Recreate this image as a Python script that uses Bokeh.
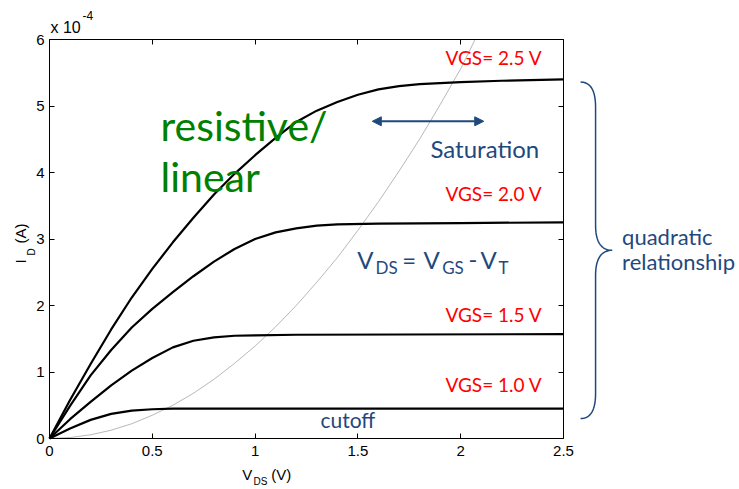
import numpy as np
from bokeh.plotting import figure
from bokeh.models import (Range1d, LinearAxis, FixedTicker, Label, Arrow, NormalHead)
from bokeh.embed import file_html
from bokeh.resources import INLINE

# ---- data (I_D in units of 1e-4 A) ----
vds_25 = [0, 0.1, 0.2, 0.3, 0.4, 0.5, 0.6, 0.7, 0.8, 0.9, 1.0, 1.1, 1.2, 1.3, 1.4,
          1.5, 1.6, 1.7, 1.8, 2.0, 2.2, 2.5]
id_25 = [0, 0.58, 1.12, 1.64, 2.12, 2.55, 2.95, 3.32, 3.67, 3.98, 4.26, 4.52, 4.76,
         4.93, 5.06, 5.17, 5.25, 5.30, 5.33, 5.36, 5.38, 5.40]

vds_20 = [0, 0.1, 0.2, 0.3, 0.4, 0.5, 0.6, 0.7, 0.8, 0.9, 1.0, 1.1, 1.2, 1.3, 1.4,
          1.6, 2.0, 2.5]
id_20 = [0, 0.49, 0.95, 1.33, 1.67, 1.95, 2.20, 2.44, 2.66, 2.85, 3.00, 3.10, 3.16,
         3.20, 3.22, 3.23, 3.24, 3.25]

vds_15 = [0, 0.1, 0.2, 0.3, 0.4, 0.5, 0.6, 0.7, 0.8, 0.9, 1.0, 1.2, 2.5]
id_15 = [0, 0.29, 0.55, 0.80, 1.02, 1.21, 1.37, 1.47, 1.52, 1.545, 1.55, 1.56, 1.57]

vds_10 = [0, 0.1, 0.2, 0.3, 0.4, 0.5, 0.6, 2.5]
id_10 = [0, 0.15, 0.28, 0.37, 0.42, 0.44, 0.45, 0.45]

# boundary V_DS = V_GS - V_T
vds_b = [0, 0.1, 0.2, 0.3, 0.4, 0.5, 0.6, 0.7, 0.8, 0.9, 1.0, 1.1, 1.2, 1.3, 1.4,
         1.5, 1.6, 1.7, 1.8, 1.9, 2.0, 2.07]
id_b = [0, 0.014, 0.056, 0.125, 0.222, 0.35, 0.50, 0.68, 0.89, 1.13, 1.39, 1.68,
        2.0, 2.35, 2.72, 3.13, 3.56, 4.02, 4.5, 5.02, 5.56, 6.0]

vgs_labels = ["VGS= 2.5 V", "VGS= 2.0 V", "VGS= 1.5 V", "VGS= 1.0 V"]
vgs_label_y = [5.62, 3.58, 1.76, 0.70]

x_ticks = [0, 0.5, 1, 1.5, 2, 2.5]
x_tick_labels = ["0", "0.5", "1", "1.5", "2", "2.5"]
y_ticks = [0, 1, 2, 3, 4, 5, 6]
y_tick_labels = ["0", "1", "2", "3", "4", "5", "6"]

BLUE = "#1F497D"
GREEN = "#008000"
RED = "#FF0000"
SANS = "Liberation Sans"
CAL = "Lato"

W, H = 739, 489
# pixel geometry of the plot box inside the canvas
BOX_L, BOX_R, BOX_T, BOX_B = 49, 563, 39, 438
XMAX, YMAX = 2.5, 6.0
sx = (BOX_R - BOX_L) / XMAX
sy = (BOX_B - BOX_T) / YMAX

def dx(px):
    return (px - BOX_L) / sx

def dy(py):
    return (BOX_B - py) / sy

p = figure(width=W, height=H, output_backend="svg", toolbar_location=None,
           x_range=Range1d(dx(0), dx(W)), y_range=Range1d(dy(H), dy(0)),
           min_border=0, x_axis_location=None, y_axis_location=None)
p.xgrid.visible = False
p.ygrid.visible = False
p.outline_line_color = None
p.background_fill_color = "white"
p.border_fill_color = "white"

def make_axis(ticks, labels, loc, bounds, standoff):
    ax = LinearAxis(ticker=FixedTicker(ticks=ticks), bounds=bounds, fixed_location=loc,
                    major_label_overrides={t: l for t, l in zip(ticks, labels)})
    ax.axis_line_color = "black"
    ax.axis_line_width = 1
    ax.major_tick_in = 5
    ax.major_tick_out = 0
    ax.minor_tick_line_color = None
    ax.major_tick_line_color = "black"
    ax.major_label_text_font = SANS
    ax.major_label_text_font_size = "15px"
    ax.major_label_text_color = "black"
    ax.major_label_standoff = standoff
    return ax

p.add_layout(make_axis(x_ticks, x_tick_labels, 0, (0, XMAX), 7), "below")
p.add_layout(make_axis(x_ticks, [""] * len(x_ticks), YMAX, (0, XMAX), 0), "above")
p.add_layout(make_axis(y_ticks, y_tick_labels, 0, (0, YMAX), 5), "left")
p.add_layout(make_axis(y_ticks, [""] * len(y_ticks), XMAX, (0, YMAX), 0), "right")

# curves
p.line(vds_b, id_b, line_color="#999999", line_width=0.7)
for xs, ys in [(vds_25, id_25), (vds_20, id_20), (vds_15, id_15), (vds_10, id_10)]:
    p.line(xs, ys, line_color="black", line_width=2.2, line_join="round")

K = 0.38  # baseline correction (fraction of the font size)

def lab(x, y, text, size, color, font=CAL, angle=0.0):
    px = float(size.replace("px", ""))
    if angle:
        x = x - K * px / sx
    else:
        y = y + K * px / sy
    p.add_layout(Label(x=x, y=y, text=text, text_font=font, text_font_size=size,
                       text_color=color, text_baseline="alphabetic", text_align="left",
                       angle=angle))

# multiplier and axis titles
lab(dx(50), dy(33), "x 10", "16px", "black", SANS)
lab(dx(82), dy(20), "-4", "12px", "black", SANS)
lab(dx(241.7), dy(480), "V", "15px", "black", SANS)
lab(dx(253), dy(485), "DS", "10px", "black", SANS)
lab(dx(270.7), dy(480), "(V)", "15px", "black", SANS)
lab(dx(26), dy(263), "I", "15px", "black", SANS, np.pi / 2)
lab(dx(35), dy(255), "D", "10px", "black", SANS, np.pi / 2)
lab(dx(26), dy(243), "(A)", "15px", "black", SANS, np.pi / 2)

# VGS labels
for t, yy in zip(vgs_labels, vgs_label_y):
    lab(1.926, yy, t, "19px", RED)

# region texts
lab(0.54, 4.48, "resistive/", "41px", GREEN)
lab(0.54, 3.70, "linear", "41px", GREEN)
lab(1.853, 4.23, "Saturation", "24px", BLUE)
lab(1.318, 0.17, "cutoff", "21px", BLUE)
lab(2.785, 2.91, "quadratic", "22px", BLUE)
lab(2.785, 2.53, "relationship", "22px", BLUE)

# V_DS = V_GS - V_T
eq_big, eq_small = "24px", "17px"
yb, ys_ = 2.552, 2.477
for t, xx, big in [("V", 1.4966, True), ("DS", 1.5856, False), ("=", 1.7155, True),
                   ("V", 1.8191, True), ("GS", 1.910, False), ("-", 2.038, True),
                   ("V", 2.0963, True), ("T", 2.1839, False)]:
    lab(xx, yb if big else ys_, t, eq_big if big else eq_small, BLUE)

# saturation arrow
p.add_layout(Arrow(start=NormalHead(size=9, fill_color=BLUE, line_color=BLUE),
                   end=NormalHead(size=9, fill_color=BLUE, line_color=BLUE),
                   x_start=1.57, y_start=4.77, x_end=2.112, y_end=4.77,
                   line_color=BLUE, line_width=2))

# curly brace (built from its extent)
br_x_tip, br_x_stem, br_x_mid = 2.583, 2.656, 2.737
br_y_top, br_y_bot, br_y_mid = 5.36, 0.30, 2.83
r = 0.38

def qbez(p0, p1, p2, n=20):
    t = np.linspace(0, 1, n)[:, None]
    return (1 - t) ** 2 * np.array(p0) + 2 * (1 - t) * t * np.array(p1) + t ** 2 * np.array(p2)

segs = [
    qbez((br_x_tip, br_y_top), (br_x_stem, br_y_top), (br_x_stem, br_y_top - r)),
    qbez((br_x_stem, br_y_mid + r), (br_x_stem, br_y_mid), (br_x_mid, br_y_mid)),
    qbez((br_x_mid, br_y_mid), (br_x_stem, br_y_mid), (br_x_stem, br_y_mid - r)),
    qbez((br_x_stem, br_y_bot + r), (br_x_stem, br_y_bot), (br_x_tip, br_y_bot)),
]
pts = np.vstack(segs)
p.line(pts[:, 0], pts[:, 1], line_color=BLUE, line_width=1.5)

open("out.html", "w").write(file_html(p, INLINE))
